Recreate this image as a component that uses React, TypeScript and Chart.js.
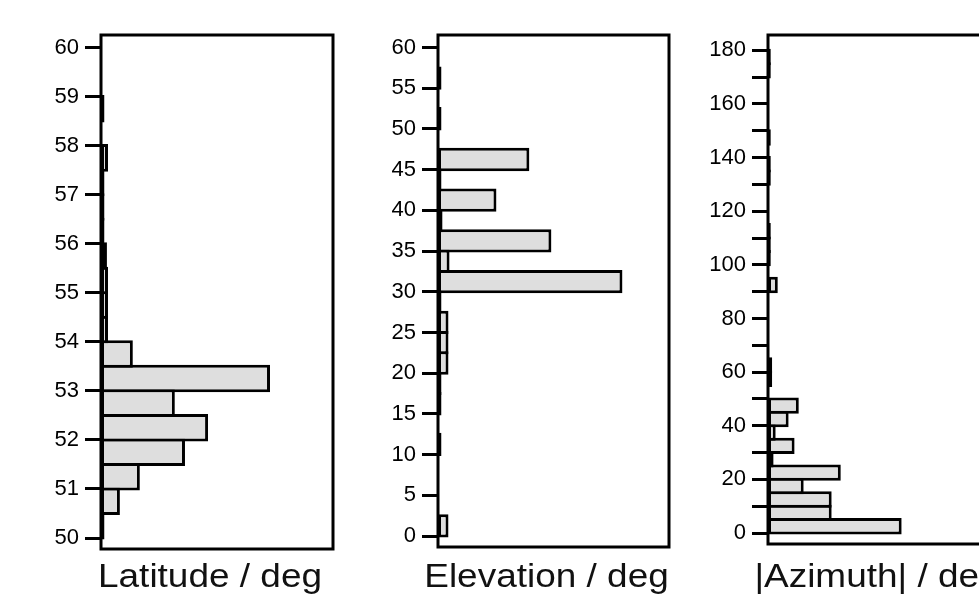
import React, { useEffect, useRef } from 'react';
import { Chart, registerables } from 'chart.js';

Chart.register(...registerables);
Chart.defaults.font.family = '"Liberation Sans", Arial, sans-serif';

// ---- Latitude histogram (0.5 deg bins) ----
const latCenters = [50.25, 50.75, 51.25, 51.75, 52.25, 52.75, 53.25, 53.75, 54.25, 54.75, 55.25, 55.75, 56.25, 56.75, 57.25, 57.75, 58.25, 58.75, 59.25, 59.75];
const latCounts = [1, 5.4, 11.1, 24, 30.6, 21.1, 48.3, 9.1, 2, 2, 2, 1.7, 1, 1, 1, 2, 0, 1, 0, 0];

// ---- Elevation histogram (2.5 deg bins) ----
const elevCenters = [1.25, 3.75, 6.25, 8.75, 11.25, 13.75, 16.25, 18.75, 21.25, 23.75, 26.25, 28.75, 31.25, 33.75, 36.25, 38.75, 41.25, 43.75, 46.25, 48.75, 51.25, 53.75, 56.25, 58.75];
const elevCounts = [3, 0, 0, 0, 1, 0, 1, 1, 3, 3, 3, 1, 52.7, 3.3, 32.4, 1.3, 16.7, 1, 26.1, 0, 1, 0, 1, 0];

// ---- |Azimuth| histogram (5 deg bins) ----
const azCenters = [2.5, 7.5, 12.5, 17.5, 22.5, 27.5, 32.5, 37.5, 42.5, 47.5, 52.5, 57.5, 62.5, 67.5, 72.5, 77.5, 82.5, 87.5, 92.5, 97.5, 102.5, 107.5, 112.5, 117.5, 122.5, 127.5, 132.5, 137.5, 142.5, 147.5, 152.5, 157.5, 162.5, 167.5, 172.5, 177.5];
const azCounts = [38.2, 18.2, 18.2, 10.2, 20.8, 1.6, 7.6, 2.2, 5.9, 8.8, 0, 1.2, 1.2, 0, 0, 0, 0, 0, 2.8, 0, 0.8, 0.8, 0.8, 0, 0, 0, 0.8, 0.8, 0, 0.8, 0, 0, 0, 0, 0.8, 0.8];

const titles = ['Latitude / deg', 'Elevation / deg', '|Azimuth| / deg'];

const H = 598;
const TOP = 35;
const YW = 90;
const BORDER = 3;
const TITLE_SIZE = 33;
const TITLE_STRETCH = 1.12;
const TITLE_BASELINE = 587;
const TITLE_DX = -7;

const boxPlugin = {
  id: 'box',
  afterDraw(chart: any) {
    const { ctx, chartArea: a } = chart;
    ctx.save();
    ctx.strokeStyle = '#000';
    ctx.lineWidth = BORDER;
    ctx.strokeRect(a.left, a.top, a.right - a.left, a.bottom - a.top);
    ctx.restore();
  },
};

const xTitlePlugin = {
  id: 'xTitle',
  afterDraw(chart: any, _args: any, opts: any) {
    const { ctx, chartArea: a } = chart;
    const cx = (a.left + a.right) / 2 + TITLE_DX;
    ctx.save();
    ctx.font = `${TITLE_SIZE}px "Liberation Sans", Arial, sans-serif`;
    ctx.fillStyle = '#111';
    ctx.textAlign = 'center';
    ctx.textBaseline = 'alphabetic';
    ctx.translate(cx, TITLE_BASELINE);
    ctx.scale(TITLE_STRETCH, 1);
    ctx.fillText(opts.text, 0, 0);
    ctx.restore();
  },
};

type PanelProps = {
  left: number;
  plotW: number;
  bottomH: number;
  centers: number[];
  counts: number[];
  bin: number;
  yMin: number;
  yMax: number;
  step: number;
  labelEvery: number;
  xMax: number;
  title: string;
};

function Panel(p: PanelProps) {
  const ref = useRef<HTMLCanvasElement | null>(null);
  const width = YW + p.plotW + BORDER;
  useEffect(() => {
    if (!ref.current) return;
    const plotH = H - TOP - p.bottomH;
    const binPx = (p.bin * plotH) / (p.yMax - p.yMin);
    const pct = (binPx + BORDER) / binPx;
    const chart = new Chart(ref.current, {
      type: 'bar',
      data: {
        datasets: [
          {
            data: p.centers.map((c, i) => ({ y: c, x: p.counts[i] })),
            backgroundColor: '#dedede',
            borderColor: '#000',
            borderWidth: BORDER,
            borderSkipped: false,
            barPercentage: 1,
            categoryPercentage: pct,
          } as any,
        ],
      },
      options: {
        indexAxis: 'y',
        responsive: false,
        animation: false,
        devicePixelRatio: 1,
        layout: { padding: { left: 0, right: BORDER, top: TOP, bottom: 0 } },
        plugins: {
          legend: { display: false },
          tooltip: { enabled: false },
          xTitle: { text: p.title },
        },
        scales: {
          y: {
            type: 'linear',
            position: 'left',
            min: p.yMin,
            max: p.yMax,
            offset: false,
            border: { display: false },
            grid: {
              offset: false,
              drawOnChartArea: false,
              drawTicks: true,
              tickLength: 16,
              tickWidth: 3,
              tickColor: '#000',
              color: '#000',
            },
            ticks: {
              stepSize: p.step,
              includeBounds: false,
              autoSkip: false,
              padding: 6,
              color: '#000',
              font: { size: 22 },
              callback: (v: any) => {
                const n = Math.round(Number(v) * 1000) / 1000;
                return Math.abs(n % p.labelEvery) < 1e-6 ? String(n) : '';
              },
            },
            afterFit: (s: any) => {
              s.width = YW;
            },
          },
          x: {
            type: 'linear',
            position: 'bottom',
            min: 0,
            max: p.xMax,
            border: { display: false },
            grid: { display: false },
            ticks: { display: false },
            title: { display: false },
            afterFit: (s: any) => {
              s.height = p.bottomH;
            },
          },
        },
      } as any,
      plugins: [boxPlugin, xTitlePlugin],
    });
    return () => chart.destroy();
  }, []);
  return (
    <canvas
      ref={ref}
      width={width}
      height={H}
      style={{ position: 'absolute', left: p.left - YW, top: 0, width, height: H }}
    />
  );
}

export default function App() {
  return (
    <div
      style={{
        position: 'fixed',
        left: 0,
        top: 0,
        width: 979,
        height: H,
        overflow: 'hidden',
        background: '#fff',
      }}
    >
      <Panel left={101} plotW={232} bottomH={49} centers={latCenters} counts={latCounts} bin={0.5}
        yMin={49.776} yMax={60.255} step={1} labelEvery={1} xMax={66.3} title={titles[0]} />
      <Panel left={438} plotW={231} bottomH={51} centers={elevCenters} counts={elevCounts} bin={2.5}
        yMin={-1.35} yMax={61.54} step={5} labelEvery={5} xMax={66} title={titles[1]} />
      <Panel left={768} plotW={232} bottomH={54} centers={azCenters} counts={azCounts} bin={5}
        yMin={-4.1} yMax={185.7} step={10} labelEvery={20} xMax={66.3} title={titles[2]} />
    </div>
  );
}
